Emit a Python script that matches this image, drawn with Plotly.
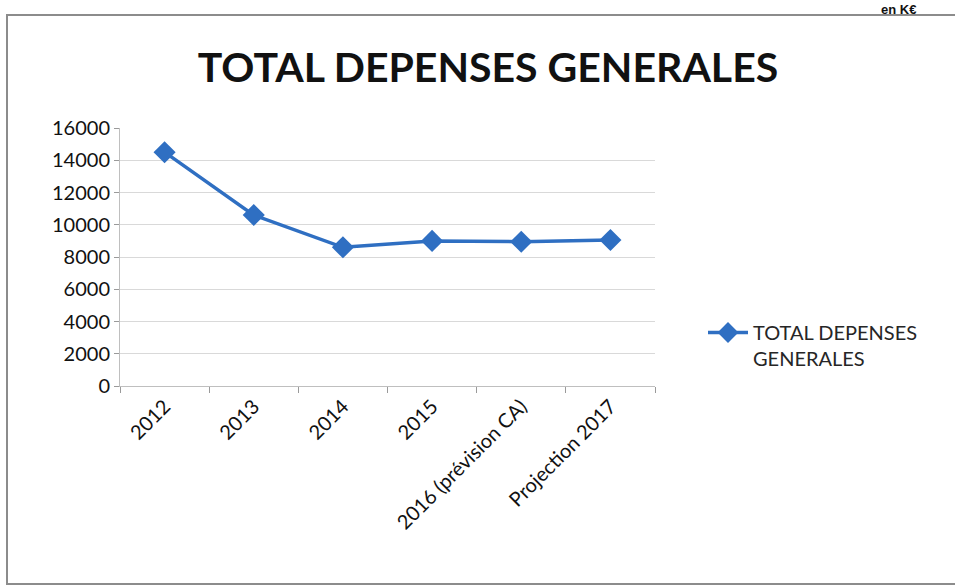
import plotly.graph_objects as go

categories = ["2012", "2013", "2014", "2015", "2016 (prévision CA)", "Projection 2017"]
depenses = [14500, 10600, 8600, 9000, 8950, 9050]
y_ticks = [0, 2000, 4000, 6000, 8000, 10000, 12000, 14000, 16000]
y_tick_labels = [str(v) for v in y_ticks]

series_name = "TOTAL DEPENSES<br>GENERALES"
blue = "#2F6FC2"
font_family = "Lato, 'Open Sans', sans-serif"

fig = go.Figure()
fig.add_trace(go.Scatter(
    x=categories,
    y=depenses,
    mode="lines+markers",
    name=series_name,
    line=dict(color=blue, width=3.5),
    marker=dict(symbol="diamond", size=17, color=blue),
))

W, H = 955, 588
L, R, T, B = 120, 300, 128, 202
pw, ph = W - L - R, H - T - B

def px_x(x):
    return (x - L) / pw

def px_y(y):
    return (H - B - y) / ph

fig.update_layout(
    width=W, height=H,
    margin=dict(l=L, r=R, t=T, b=B),
    paper_bgcolor="white",
    plot_bgcolor="white",
    font=dict(family=font_family, color="#111111"),
    title=dict(
        text="<b>TOTAL DEPENSES GENERALES</b>",
        x=488 / W, xanchor="center",
        y=1 - 68 / H, yanchor="middle",
        font=dict(size=41, color="#111111", family=font_family),
    ),
    showlegend=True,
    legend=dict(
        x=px_x(703), xanchor="left",
        y=px_y(313), yanchor="top",
        valign="top",
        font=dict(size=20, color="#262626", family=font_family),
        bgcolor="rgba(0,0,0,0)",
        itemwidth=40,
    ),
    xaxis=dict(
        type="category",
        tickangle=-45,
        tickfont=dict(size=20, color="#111111"),
        showgrid=False,
        showline=True, linecolor="#bfbfbf", linewidth=1,
        ticks="outside", ticklen=6, tickcolor="#9a9a9a",
        tickson="boundaries",
        range=[-0.5, len(categories) - 0.5],
    ),
    yaxis=dict(
        range=[0, 16000],
        tickvals=y_ticks,
        ticktext=y_tick_labels,
        tickfont=dict(size=20, color="#111111"),
        showgrid=True, gridcolor="#d9d9d9", gridwidth=1,
        showline=True, linecolor="#bfbfbf", linewidth=1,
        ticks="outside", ticklen=5, tickcolor="#9a9a9a",
        zeroline=False,
    ),
)

# Outer frame of the chart area
fig.add_shape(
    type="rect", xref="paper", yref="paper",
    x0=px_x(7), x1=px_x(990), y0=px_y(584), y1=px_y(15),
    line=dict(color="#8c8c8c", width=2),
    fillcolor="rgba(0,0,0,0)",
    layer="below",
)

# Unit note in the top-right corner
fig.add_annotation(
    text="<b>en K€</b>",
    xref="paper", yref="paper",
    x=px_x(880), xanchor="left",
    y=px_y(1), yanchor="top",
    showarrow=False,
    borderpad=0,
    font=dict(size=13, color="#111111", family="'Liberation Sans', Arial, sans-serif"),
)

fig.write_html("out.html")
